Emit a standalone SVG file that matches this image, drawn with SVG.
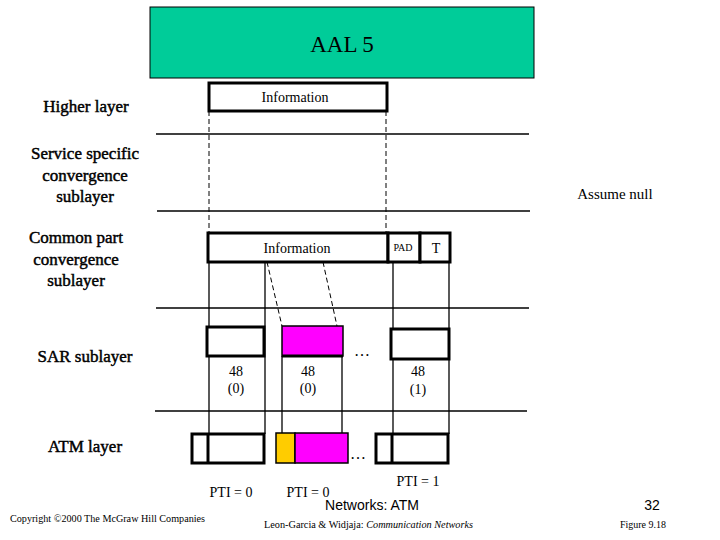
<svg xmlns="http://www.w3.org/2000/svg" width="720" height="540" viewBox="0 0 720 540">
<style>
text{font-family:"Liberation Serif","Times New Roman",serif;fill:#000}
.lbl{font-size:17px;text-anchor:middle;stroke:#000;stroke-width:0.45}
.sm{font-size:14px;text-anchor:middle}
.box{fill:#fff;stroke:#000;stroke-width:3}
.ln{stroke:#000;stroke-width:1.3;fill:none}
.ds{stroke:#000;stroke-width:1;stroke-dasharray:5,3;fill:none}
</style>
<rect width="720" height="540" fill="#fff"/>
<g id="title">
<rect x="150" y="7" width="384" height="71" fill="#00cc99" stroke="#000" stroke-width="1"/>
<text x="342" y="52" style="font-size:23px" text-anchor="middle">AAL 5</text>
</g>
<g id="labels">
<text class="lbl" x="86" y="112">Higher layer</text>
<text class="lbl" x="85" y="159">Service specific</text>
<text class="lbl" x="85" y="181">convergence</text>
<text class="lbl" x="85" y="202">sublayer</text>
<text class="lbl" x="76" y="243">Common part</text>
<text class="lbl" x="76" y="265">convergence</text>
<text class="lbl" x="76" y="286">sublayer</text>
<text class="lbl" x="85" y="362">SAR sublayer</text>
<text class="lbl" x="85" y="452">ATM layer</text>
<text class="sm" x="615" y="199" style="font-size:15px">Assume null</text>
</g>
<g id="connectors">
<line class="ln" x1="156" y1="134" x2="529" y2="134"/>
<line class="ln" x1="157" y1="211" x2="530" y2="211"/>
<line class="ln" x1="156" y1="308" x2="529" y2="308"/>
<line class="ln" x1="155" y1="411" x2="527" y2="411"/>
<line class="ds" x1="209" y1="111" x2="209" y2="233"/>
<line class="ds" x1="386" y1="111" x2="386" y2="233"/>
<line class="ln" x1="209" y1="262" x2="209" y2="434"/>
<line class="ln" x1="265" y1="262" x2="265" y2="434"/>
<line class="ds" x1="267" y1="262" x2="282" y2="326"/>
<line class="ds" x1="323" y1="262" x2="337" y2="326"/>
<line class="ln" x1="282" y1="356" x2="282" y2="434"/>
<line class="ln" x1="342" y1="356" x2="342" y2="434"/>
<line class="ln" x1="393" y1="262" x2="393" y2="434"/>
<line class="ln" x1="449" y1="262" x2="449" y2="434"/>
</g>
<g id="higher-info">
<rect class="box" x="209" y="83" width="178" height="28"/>
<text class="sm" x="295" y="102">Information</text>
</g>
<g id="cpcs">
<rect class="box" x="208" y="233" width="180" height="29"/>
<text class="sm" x="297" y="253">Information</text>
<rect class="box" x="388" y="233" width="32" height="29"/>
<text x="403" y="251" style="font-size:10px" text-anchor="middle">PAD</text>
<rect class="box" x="420" y="233" width="30" height="29"/>
<text class="sm" x="436" y="253">T</text>
</g>
<g id="sar">
<rect class="box" x="207" y="327" width="57" height="29"/>
<rect x="282" y="326" width="61" height="30" fill="#ff00ff" stroke="#000" stroke-width="1.5"/>
<line x1="282" y1="356" x2="343" y2="356" stroke="#000" stroke-width="3"/>
<rect class="box" x="391" y="329" width="58" height="30"/>
<text x="362" y="356" style="font-size:16px" text-anchor="middle">…</text>
<text class="sm" x="236" y="376">48</text>
<text class="sm" x="236" y="393">(0)</text>
<text class="sm" x="308" y="376">48</text>
<text class="sm" x="308" y="393">(0)</text>
<text class="sm" x="418" y="376">48</text>
<text class="sm" x="418" y="394">(1)</text>
</g>
<g id="atm">
<rect class="box" x="192" y="434" width="72" height="29"/>
<line x1="208" y1="434" x2="208" y2="463" stroke="#000" stroke-width="3"/>
<rect x="276" y="433" width="19" height="30" fill="#ffcc00" stroke="#000" stroke-width="1.5"/>
<rect x="295" y="433" width="53" height="30" fill="#ff00ff" stroke="#000" stroke-width="1.5"/>
<text x="358" y="459" style="font-size:16px" text-anchor="middle">…</text>
<rect class="box" x="376" y="434" width="72" height="29"/>
<line x1="392" y1="434" x2="392" y2="463" stroke="#000" stroke-width="3"/>
<text class="sm" x="231" y="497">PTI = 0</text>
<text class="sm" x="308" y="497">PTI = 0</text>
<text class="sm" x="418" y="486">PTI = 1</text>
</g>
<g id="footer">
<text x="372" y="510" style="font-size:14px;font-family:'Liberation Sans',Arial,sans-serif" text-anchor="middle">Networks: ATM</text>
<text x="652" y="510" style="font-size:14px;font-family:'Liberation Sans',Arial,sans-serif" text-anchor="middle">32</text>
<text x="10" y="522" style="font-size:9.5px" textLength="195" lengthAdjust="spacingAndGlyphs">Copyright ©2000 The McGraw Hill Companies</text>
<text x="264" y="528" style="font-size:9.5px" textLength="209" lengthAdjust="spacingAndGlyphs">Leon-Garcia &amp; Widjaja:  <tspan font-style="italic">Communication Networks</tspan></text>
<text x="620" y="528" style="font-size:9.5px" textLength="46" lengthAdjust="spacingAndGlyphs">Figure 9.18</text>
</g>
</svg>
